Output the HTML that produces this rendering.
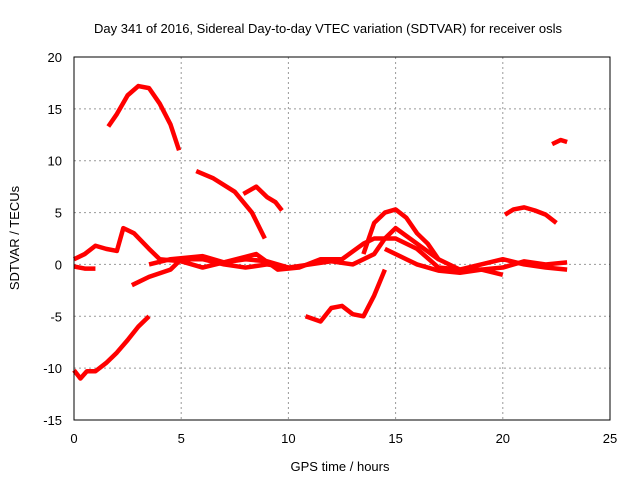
<!DOCTYPE html>
<html><head><meta charset="utf-8"><style>
body{margin:0;background:#fff}
svg text{font-family:"Liberation Sans",sans-serif;font-size:13px;fill:#000}
</style></head><body>
<svg id="chart" width="640" height="480">
<text x="328" y="33" text-anchor="middle">Day 341 of 2016, Sidereal Day-to-day VTEC variation (SDTVAR) for receiver osls</text>
<text x="340" y="471" text-anchor="middle">GPS time / hours</text>
<text transform="translate(19,238) rotate(-90)" text-anchor="middle">SDTVAR / TECUs</text>
<g id="grid"></g><g id="series"></g>
<rect x="74" y="57" width="536" height="363" fill="none" stroke="#000"/>
</svg>
<script>
const xTicks=[0,5,10,15,20,25];
const yTicks=[-15,-10,-5,0,5,10,15,20];
const s1=[[1.6,13.3],[2,14.5],[2.5,16.3],[3,17.2],[3.5,17],[4,15.5],[4.5,13.5],[4.9,11]];
const s2=[[0,-10.2],[0.3,-11],[0.6,-10.3],[1,-10.3],[1.5,-9.5],[2,-8.5],[2.5,-7.3],[3,-6],[3.5,-5]];
const s3=[[5.7,9],[6.5,8.3],[7.5,7],[8.3,5],[8.9,2.5]];
const s4=[[7.9,6.8],[8.5,7.5],[9,6.5],[9.4,6],[9.7,5.2]];
const s5=[[0,0.5],[0.5,1],[1,1.8],[1.5,1.5],[2,1.3],[2.3,3.5],[2.8,3],[3.5,1.5],[4,0.5],[5,0.3],[6,-0.3],[7,0.2],[8,0.5],[9,0.3],[10,-0.3]];
const s6=[[0,-0.2],[0.5,-0.4],[1,-0.4]];
const s7=[[2.7,-2],[3.5,-1.2],[4.5,-0.5],[5,0.5],[6,0.5],[7,0],[8,-0.3],[9,0],[10,-0.3],[11,0],[12,0.3],[13,0],[14,1],[14.5,2.5],[15,3.5],[16,2],[17,0.5],[18,-0.5],[19,-0.5],[20,-0.3],[21,0.3],[22,0],[23,0.2]];
const s8=[[3.5,0],[4.5,0.5],[6,0.8],[7,0.2],[8.5,1],[9.5,-0.5],[10.5,-0.3],[11.5,0.5],[12.5,0.5],[13.5,2],[14,2.5],[15,2.5],[16,1.5],[17,-0.3],[18,-0.5],[20,0.5],[21,0],[22,-0.3],[23,-0.5]];
const s9=[[13.5,1],[14,4],[14.5,5],[15,5.3],[15.5,4.5],[16,3],[16.5,2],[17,0.5]];
const s10=[[14.5,1.5],[15.5,0.5],[16,0],[17,-0.6],[18,-0.8],[19,-0.5],[20,-1]];
const s11=[[10.8,-5],[11.5,-5.5],[12,-4.2],[12.5,-4],[13,-4.8],[13.5,-5],[14,-3],[14.5,-0.5]];
const s12=[[20.1,4.8],[20.5,5.3],[21,5.5],[21.5,5.2],[22,4.8],[22.5,4]];
const s13=[[22.3,11.6],[22.7,12],[23,11.8]];
const allSeries=[s1,s2,s3,s4,s5,s6,s7,s8,s9,s10,s11,s12,s13];
const NS="http://www.w3.org/2000/svg";
const X=v=>74+v*536/25, Y=v=>57+(20-v)*363/35;
const g=document.getElementById('grid');
xTicks.forEach(t=>{
 const l=document.createElementNS(NS,'line');
 l.setAttribute('x1',X(t));l.setAttribute('x2',X(t));l.setAttribute('y1',57);l.setAttribute('y2',420);
 l.setAttribute('stroke','#999');l.setAttribute('stroke-dasharray','2,3');
 
 
 g.appendChild(l);
 const tx=document.createElementNS(NS,'text');
 tx.setAttribute('x',X(t));tx.setAttribute('y',443);tx.setAttribute('text-anchor','middle');tx.textContent=t;
 
 
 g.appendChild(tx);
});
yTicks.forEach(t=>{
 const l=document.createElementNS(NS,'line');
 l.setAttribute('x1',74);l.setAttribute('x2',610);l.setAttribute('y1',Y(t));l.setAttribute('y2',Y(t));
 l.setAttribute('stroke','#999');l.setAttribute('stroke-dasharray','2,3');
 
 
 g.appendChild(l);
 const tx=document.createElementNS(NS,'text');
 tx.setAttribute('x',62);tx.setAttribute('y',Y(t)+5);tx.setAttribute('text-anchor','end');tx.textContent=t;
 
 
 g.appendChild(tx);
});
const sg=document.getElementById('series');
allSeries.forEach((s,i)=>{
 const p=document.createElementNS(NS,'polyline');
 p.setAttribute('points',s.map(d=>X(d[0])+','+Y(d[1])).join(' '));
 p.setAttribute('fill','none');p.setAttribute('stroke','#f00');p.setAttribute('stroke-width','4.5');
 p.setAttribute('stroke-linejoin','round');
 
 
 sg.appendChild(p);
});
</script>
</body></html>
